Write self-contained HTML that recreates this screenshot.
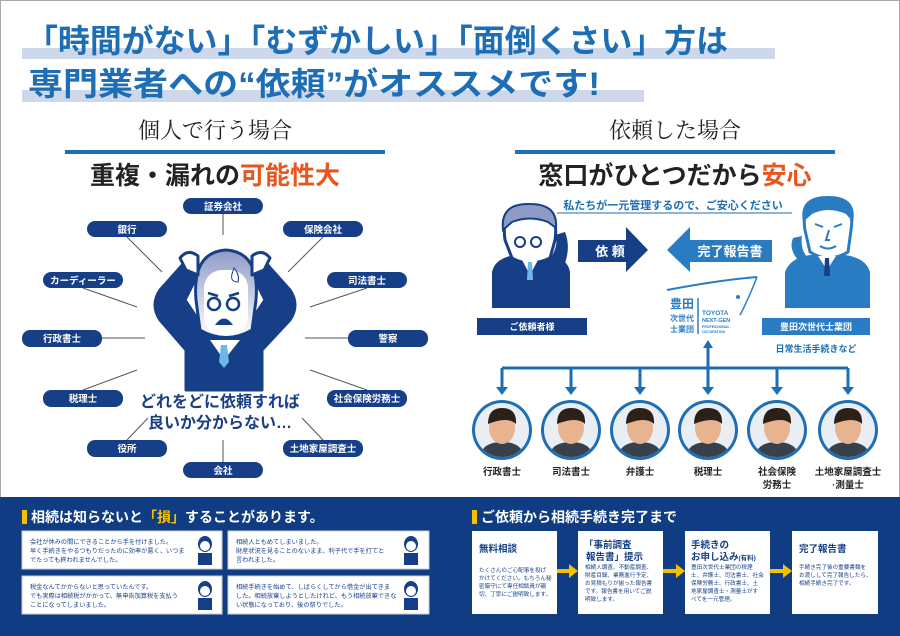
<!DOCTYPE html>
<html><head><meta charset="utf-8">
<style>
html,body{margin:0;padding:0;background:#fff;}
svg{display:block;}
text{font-family:"Liberation Sans","Noto Sans CJK JP",sans-serif;}
.b{font-weight:bold;}
</style></head>
<body>
<svg width="900" height="636" viewBox="0 0 900 636" xmlns="http://www.w3.org/2000/svg">
<rect x="0.5" y="0.5" width="899" height="635" fill="#fff" stroke="#aaa"/>
<!-- title -->
<rect x="22" y="48" width="753" height="11" fill="#cdd8ea"/>
<rect x="22" y="90" width="622" height="12" fill="#cdd8ea"/>
<text x="26" y="52" font-size="32" class="b" fill="#1d6eb4" textLength="702" lengthAdjust="spacingAndGlyphs">「時間がない」「むずかしい」「面倒くさい」方は</text>
<text x="28" y="95" font-size="32" class="b" fill="#1d6eb4" textLength="572" lengthAdjust="spacingAndGlyphs">専門業者への“依頼”がオススメです!</text>

<!-- section headers -->
<text x="215" y="138" font-size="22" text-anchor="middle" fill="#222" style="font-family:'Liberation Serif','Noto Serif CJK SC',serif">個人で行う場合</text>
<rect x="65" y="150" width="320" height="4" fill="#1d6eb4"/>
<text x="215" y="184" font-size="25" class="b" text-anchor="middle" fill="#222">重複・漏れの<tspan fill="#e8561e">可能性大</tspan></text>
<text x="675" y="138" font-size="22" text-anchor="middle" fill="#222" style="font-family:'Liberation Serif','Noto Serif CJK SC',serif">依頼した場合</text>
<rect x="515" y="150" width="320" height="4" fill="#1d6eb4"/>
<text x="675" y="184" font-size="25" class="b" text-anchor="middle" fill="#222">窓口がひとつだから<tspan fill="#e8561e">安心</tspan></text>

<!-- left diagram lines -->
<g stroke="#555" stroke-width="1">
<line x1="223" y1="214" x2="223" y2="235"/>
<line x1="127" y1="237" x2="162" y2="272"/>
<line x1="323" y1="237" x2="288" y2="272"/>
<line x1="83" y1="288" x2="137" y2="307"/>
<line x1="367" y1="288" x2="310" y2="307"/>
<line x1="102" y1="338" x2="145" y2="338"/>
<line x1="348" y1="338" x2="305" y2="338"/>
<line x1="83" y1="390" x2="137" y2="370"/>
<line x1="367" y1="390" x2="310" y2="370"/>
<line x1="127" y1="440" x2="148" y2="418"/>
<line x1="323" y1="440" x2="302" y2="418"/>
<line x1="223" y1="462" x2="223" y2="440"/>
</g>
<g fill="#163f87">
<rect x="183" y="198" width="80" height="16" rx="8"/>
<rect x="87" y="221" width="80" height="16" rx="8"/>
<rect x="283" y="221" width="80" height="16" rx="8"/>
<rect x="43" y="272" width="80" height="16" rx="8"/>
<rect x="327" y="272" width="80" height="16" rx="8"/>
<rect x="22" y="330" width="80" height="17" rx="8"/>
<rect x="348" y="330" width="80" height="17" rx="8"/>
<rect x="43" y="390" width="80" height="17" rx="8"/>
<rect x="327" y="390" width="80" height="17" rx="8"/>
<rect x="87" y="440" width="80" height="17" rx="8"/>
<rect x="283" y="440" width="80" height="17" rx="8"/>
<rect x="183" y="462" width="80" height="16" rx="8"/>
</g>
<g fill="#fff" font-size="9.5" class="b" text-anchor="middle">
<text x="223" y="210">証券会社</text>
<text x="127" y="233">銀行</text>
<text x="323" y="233">保険会社</text>
<text x="83" y="284">カーディーラー</text>
<text x="367" y="284">司法書士</text>
<text x="62" y="342">行政書士</text>
<text x="388" y="342">警察</text>
<text x="83" y="402">税理士</text>
<text x="367" y="402">社会保険労務士</text>
<text x="127" y="452">役所</text>
<text x="323" y="452">土地家屋調査士</text>
<text x="223" y="474">会社</text>
</g>
<!-- worried man -->
<defs><linearGradient id="hg" x1="0" y1="0" x2="0" y2="1"><stop offset="0" stop-color="#8d9bc6"/><stop offset="1" stop-color="#fff"/></linearGradient></defs>
<g stroke="#163f87" stroke-width="3" stroke-linejoin="round">
<path d="M186 390 L186 350 L160 320 Q150 305 160 290 L185 262 L200 270 L185 300 L205 330 L245 330 L265 300 L250 270 L265 262 L290 290 Q300 305 290 320 L262 350 L262 390 Z" fill="#163f87"/>
<path d="M196 300 Q192 252 226 250 Q260 252 256 300 L252 330 Q226 345 200 330 Z" fill="url(#hg)"/>
<path d="M180 258 Q188 248 198 256 L198 275 L186 270 Z" fill="#fff"/>
<path d="M270 258 Q262 248 252 256 L252 275 L264 270 Z" fill="#fff"/>
</g>
<rect x="204" y="270" width="44" height="65" rx="18" fill="#fff"/>
<g fill="none" stroke="#163f87" stroke-width="2.5">
<circle cx="214" cy="304" r="6"/><circle cx="233" cy="304" r="6"/>
<path d="M208 293 L218 296 M239 293 L229 296"/>
</g>
<path d="M215 325 Q224 312 233 325 Z" fill="#163f87"/>
<path d="M234 268 Q240 275 238 282 Q230 282 232 274 Z" fill="#fff" stroke="#163f87" stroke-width="1"/>
<path d="M210 340 L224 360 L240 340 Z" fill="#fff"/>
<path d="M221 345 L227 345 L229 362 L224 368 L219 362 Z" fill="#6cb8e8"/>
<text x="220" y="407" font-size="16" class="b" text-anchor="middle" fill="#1b3f85">どれをどに依頼すれば</text>
<text x="220" y="428" font-size="16" class="b" text-anchor="middle" fill="#1b3f85">良いか分からない…</text>

<!-- right diagram -->
<text x="673" y="209" font-size="11" class="b" text-anchor="middle" fill="#1d6eb4">私たちが一元管理するので、ご安心ください</text>
<line x1="557" y1="213" x2="792" y2="213" stroke="#1d6eb4" stroke-width="1"/>
<!-- left client man -->
<path d="M492 308 L492 272 Q495 258 515 255 L548 255 Q568 258 570 272 L570 308 Z" fill="#163f87"/>
<path d="M505 240 Q500 205 530 205 Q560 205 555 240 L550 258 Q530 268 512 258 Z" fill="#fff" stroke="#163f87" stroke-width="3"/>
<path d="M503 230 Q500 203 530 204 Q558 204 556 228 L548 222 Q530 215 512 222 Z" fill="#8d9bc6" stroke="#163f87" stroke-width="2"/>
<g fill="none" stroke="#163f87" stroke-width="2"><circle cx="520" cy="242" r="5"/><circle cx="536" cy="242" r="5"/></g>
<path d="M522 260 L530 275 L538 260 Z" fill="#fff"/><path d="M528 262 L532 262 L533 280 L527 280 Z" fill="#6cb8e8"/>
<path d="M548 262 Q560 245 555 235 L565 232 Q572 250 562 270 Z" fill="#163f87"/>
<rect x="477" y="318" width="110" height="17" fill="#163f87"/>
<text x="532" y="330" font-size="9" class="b" text-anchor="middle" fill="#fff">ご依頼者様</text>
<!-- arrows -->
<path d="M578 240 L626 240 L626 227 L648 250 L626 272 L626 262 L578 262 Z" fill="#163f87"/>
<text x="610" y="256" font-size="13" class="b" text-anchor="middle" fill="#fff">依 頼</text>
<path d="M772 240 L690 240 L690 227 L667 250 L690 272 L690 262 L772 262 Z" fill="#2a7cc2"/>
<text x="730" y="256" font-size="13" class="b" text-anchor="middle" fill="#fff">完了報告書</text>
<!-- right staff man -->
<path d="M785 308 L785 272 Q790 258 810 255 L845 255 Q866 258 870 272 L870 308 Z" fill="#2a7cc2"/>
<path d="M805 230 Q800 200 828 200 Q856 200 851 230 L848 252 Q828 264 810 252 Z" fill="#fff" stroke="#2a7cc2" stroke-width="3"/>
<path d="M803 222 Q798 196 828 196 Q858 196 853 222 L846 214 Q828 206 812 214 Z" fill="#2a7cc2"/>
<g stroke="#2a7cc2" stroke-width="2" fill="none"><path d="M815 224 L823 227 M842 224 L834 227 M829 230 L826 240 L830 240 M820 246 Q828 251 836 246"/></g>
<path d="M818 256 L827 270 L836 256 Z" fill="#fff"/><path d="M825 258 L829 258 L830 276 L824 276 Z" fill="#163f87"/>
<path d="M800 262 Q788 250 793 238 L802 236 Q800 250 808 258 Z" fill="#2a7cc2"/>
<rect x="762" y="318" width="108" height="17" fill="#2a7cc2"/>
<text x="816" y="330" font-size="9" class="b" text-anchor="middle" fill="#fff">豊田次世代士業団</text>
<text x="816" y="352" font-size="9" class="b" text-anchor="middle" fill="#1d6eb4">日常生活手続きなど</text>
<!-- logo -->
<path d="M667 290 Q720 280 757 277" stroke="#2a7cc2" stroke-width="2" fill="none"/>
<path d="M757 277 Q748 300 740 315" stroke="#2a7cc2" stroke-width="1.5" fill="none"/>
<circle cx="738" cy="297" r="2" fill="#2a7cc2"/>
<text x="682" y="308" font-size="12" class="b" text-anchor="middle" fill="#2a7cc2">豊田</text>
<text x="682" y="321" font-size="8" class="b" text-anchor="middle" fill="#2a7cc2">次世代</text>
<text x="682" y="332" font-size="8" class="b" text-anchor="middle" fill="#2a7cc2">士業団</text>
<line x1="698" y1="298" x2="698" y2="334" stroke="#2a7cc2" stroke-width="1.5"/>
<g fill="#2a7cc2" class="b"><text x="702" y="315" font-size="6.5">TOYOTA</text><text x="702" y="322" font-size="5.5">NEXT-GEN</text><text x="702" y="328" font-size="3.5">PROFESSIONAL</text><text x="702" y="333" font-size="3.5">OCCUPATION</text></g>
<!-- tree -->
<g stroke="#1d6eb4" stroke-width="3" fill="none">
<line x1="708" y1="345" x2="708" y2="368"/>
<line x1="502" y1="368" x2="848" y2="368"/>
<line x1="502" y1="368" x2="502" y2="388"/><line x1="571" y1="368" x2="571" y2="388"/><line x1="640" y1="368" x2="640" y2="388"/>
<line x1="708" y1="368" x2="708" y2="388"/><line x1="777" y1="368" x2="777" y2="388"/><line x1="848" y1="368" x2="848" y2="388"/>
</g>
<g fill="#1d6eb4">
<path d="M703 348 L708 340 L713 348 Z"/>
<path d="M496 387 L508 387 L502 395 Z"/><path d="M565 387 L577 387 L571 395 Z"/><path d="M634 387 L646 387 L640 395 Z"/>
<path d="M702 387 L714 387 L708 395 Z"/><path d="M771 387 L783 387 L777 395 Z"/><path d="M842 387 L854 387 L848 395 Z"/>
</g>
<defs><clipPath id="c1"><circle cx="0" cy="0" r="27"/></clipPath></defs>
<g id="p1" transform="translate(502,430)"><circle r="30" fill="#1d6eb4"/><g clip-path="url(#c1)"><rect x="-27" y="-27" width="54" height="54" fill="#e9eef5"/><path d="M-22 27 Q-20 12 0 12 Q20 12 22 27Z" fill="#38404c"/><ellipse cx="0" cy="-2" rx="13" ry="16" fill="#e8b48f"/><path d="M-14 -6 Q-14 -22 0 -22 Q15 -22 14 -6 Q6 -14 -14 -6Z" fill="#2b2118"/></g></g>
<use href="#p1" x="69"/><use href="#p1" x="138"/><use href="#p1" x="206"/><use href="#p1" x="275"/><use href="#p1" x="346"/>
<g fill="#222" font-size="9.5" class="b" text-anchor="middle">
<text x="502" y="475">行政書士</text><text x="571" y="475">司法書士</text><text x="640" y="475">弁護士</text><text x="708" y="475">税理士</text>
<text x="777" y="475">社会保険</text><text x="777" y="488">労務士</text>
<text x="848" y="475">土地家屋調査士</text><text x="848" y="488">·測量士</text>
</g>

<!-- bottom -->
<rect x="0" y="497" width="900" height="139" fill="#0f3c82"/>
<rect x="22" y="510" width="5" height="14" fill="#f5c000"/>
<text x="31" y="522" font-size="14" class="b" fill="#fff">相続は知らないと<tspan fill="#f5c000">「損」</tspan>することがあります。</text>
<rect x="472" y="510" width="5" height="14" fill="#f5c000"/>
<text x="481" y="522" font-size="14" class="b" fill="#fff">ご依頼から相続手続き完了まで</text>
<g fill="#fff" stroke="#c9cfd9" stroke-width="1">
<rect x="22" y="531" width="200" height="38"/><rect x="228" y="531" width="201" height="38"/>
<rect x="22" y="576" width="200" height="38"/><rect x="228" y="576" width="201" height="38"/>
</g>
<g fill="#163f87" font-size="6.2">
<text x="30" y="544">会社が休みの間にできることから手を付けました。</text>
<text x="30" y="553">早く手続きをやるつもりだったのに効率が悪く、いつま</text>
<text x="30" y="562">でたっても終われませんでした。</text>
<text x="236" y="544">相続人ともめてしまいました。</text>
<text x="236" y="553">財産状況を見ることのないまま、利子代で手を打てと</text>
<text x="236" y="562">言われました。</text>
<text x="30" y="589">税金なんてかからないと思っていたんです。</text>
<text x="30" y="598">でも実際は相続税がかかって、無申告加算税を支払う</text>
<text x="30" y="607">ことになってしまいました。</text>
<text x="236" y="589">相続手続きを始めて、しばらくしてから借金が出てきま</text>
<text x="236" y="598">した。相続放棄しようとしたけれど、もう相続放棄できな</text>
<text x="236" y="607">い状態になっており、後の祭りでした。</text>
</g>
<g fill="#163f87">
<ellipse cx="205" cy="544" rx="7" ry="8"/><rect x="198" y="553" width="14" height="12"/>
<ellipse cx="411" cy="544" rx="7" ry="8"/><rect x="404" y="553" width="14" height="12"/>
<ellipse cx="205" cy="589" rx="7" ry="8"/><rect x="198" y="598" width="14" height="12"/>
<ellipse cx="411" cy="589" rx="7" ry="8"/><rect x="404" y="598" width="14" height="12"/>
</g>
<g fill="#fff"><ellipse cx="205" cy="546" rx="5" ry="5"/><ellipse cx="411" cy="546" rx="5" ry="5"/><ellipse cx="205" cy="591" rx="5" ry="5"/><ellipse cx="411" cy="591" rx="5" ry="5"/></g>
<g fill="#fff">
<rect x="472" y="531" width="85" height="83"/><rect x="578" y="531" width="85" height="83"/>
<rect x="685" y="531" width="85" height="83"/><rect x="792" y="531" width="86" height="83"/>
</g>
<g fill="#f5c000">
<rect x="557" y="569" width="14" height="4"/><path d="M569 564 L578 571 L569 578Z"/>
<rect x="663" y="569" width="15" height="4"/><path d="M676 564 L685 571 L676 578Z"/>
<rect x="770" y="569" width="15" height="4"/><path d="M783 564 L792 571 L783 578Z"/>
</g>
<g fill="#163f87" class="b">
<text x="479" y="552" font-size="9.5">無料相談</text>
<text x="584" y="548" font-size="9.5">「事前調査</text><text x="586" y="560" font-size="9.5">報告書」提示</text>
<text x="691" y="548" font-size="9.5">手続きの</text><text x="691" y="560" font-size="9.5">お申し込み<tspan font-size="6.5">(有料)</tspan></text>
<text x="799" y="552" font-size="9.5">完了報告書</text>
</g>
<g fill="#163f87" font-size="5.6">
<text x="479" y="572">たくさんのご心配事を投げ</text><text x="479" y="580">かけてください。もちろん秘</text><text x="479" y="588">密厳守にて専任相談員が親</text><text x="479" y="596">切、丁寧にご説明致します。</text>
<text x="585" y="569">相続人調査、不動産調査、</text><text x="585" y="577">財産目録、業務進行予定、</text><text x="585" y="585">お見積もりが揃った報告書</text><text x="585" y="593">です。報告書を用いてご説</text><text x="585" y="601">明致します。</text>
<text x="691" y="569">豊田次世代士業団の税理</text><text x="691" y="577">士、弁護士、司法書士、社会</text><text x="691" y="585">保険労務士、行政書士、土</text><text x="691" y="593">地家屋調査士・測量士がす</text><text x="691" y="601">べてを一元管理。</text>
<text x="799" y="569">手続き完了後の重要書類を</text><text x="799" y="577">お渡しして完了報告したら、</text><text x="799" y="585">相続手続き完了です。</text>
</g>
</svg>
</body></html>
